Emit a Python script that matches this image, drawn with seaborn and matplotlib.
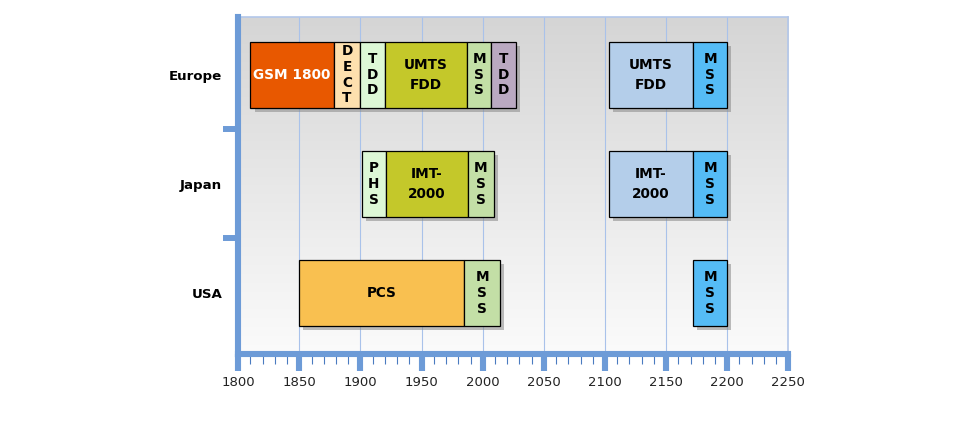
import numpy as np
import pandas as pd
import matplotlib
matplotlib.use("Agg")
import matplotlib.pyplot as plt
import matplotlib.patheffects as pe
from matplotlib.colors import LinearSegmentedColormap
from matplotlib.ticker import MultipleLocator
import seaborn as sns

# ---------------- data ----------------
regions = ["Europe", "Japan", "USA"]

seg_region = ["Europe"] * 8 + ["Japan"] * 5 + ["USA"] * 3
seg_label = ["GSM 1800", "D\nE\nC\nT", "T\nD\nD", "UMTS\nFDD", "M\nS\nS", "T\nD\nD",
             "UMTS\nFDD", "M\nS\nS",
             "P\nH\nS", "IMT-\n2000", "M\nS\nS", "IMT-\n2000", "M\nS\nS",
             "PCS", "M\nS\nS", "M\nS\nS"]
seg_start = [1810, 1878, 1900, 1920, 1987, 2007, 2103, 2172,
             1901, 1921, 1988, 2103, 2172,
             1850, 1985, 2172]
seg_end = [1878, 1900, 1920, 1987, 2007, 2027, 2172, 2200,
           1921, 1988, 2009, 2172, 2200,
           1985, 2014, 2200]
seg_color = ["#E85800", "#FDE0AE", "#DDF8D6", "#C4C82A", "#C3DFA6", "#BAA9C1",
             "#B4CEEA", "#55BCF6",
             "#DDF8D6", "#C4C82A", "#C3DFA6", "#B4CEEA", "#55BCF6",
             "#F9C050", "#C3DFA6", "#55BCF6"]
seg_text_color = ["white"] + ["black"] * 15

x_ticks = list(range(1800, 2251, 50))

df = pd.DataFrame({"region": seg_region, "label": seg_label, "start": seg_start,
                   "end": seg_end, "color": seg_color, "tcolor": seg_text_color})
df["width"] = df["end"] - df["start"]
df["ypos"] = df["region"].map({r: i for i, r in enumerate(regions)})

# ---------------- style ----------------
sns.set_theme(style="white")
plt.rcParams["font.family"] = ["DejaVu Sans"]

W, H = 967, 441
fig = plt.figure(figsize=(W / 100, H / 100), dpi=100)
ax = fig.add_axes([238.2 / W, 1 - 354 / H, 550.2 / W, (354 - 17) / H])

axis_blue = "#6D9BD7"
dark_blue = "#4A7BC0"

# background gradient (grey at top, near white at bottom)
cmap = LinearSegmentedColormap.from_list("bg", ["#D5D5D5", "#FBFBFB"])
grad = np.linspace(0, 1, 256).reshape(-1, 1)
ax.imshow(grad, cmap=cmap, aspect="auto", extent=[0, 1, 0, 1],
          transform=ax.transAxes, zorder=0, vmin=0, vmax=1)

ax.set_xlim(1800, 2250)
ax.set_ylim(2.56, -0.53)

# bars
shadow = [pe.SimplePatchShadow(offset=(3, -3), shadow_rgbFace="#888888", alpha=0.55),
          pe.Normal()]
for i, row in df.iterrows():
    bars = ax.barh(row["ypos"], row["width"], left=row["start"], height=0.6,
                   color=row["color"], edgecolor="black", linewidth=0.9,
                   zorder=3 + i * 0.01)
    for b in bars:
        b.set_path_effects(shadow)
    lines = row["label"].split("\n")
    stacked = len(lines) > 2 or all(len(l) == 1 for l in lines)
    ax.text(row["start"] + row["width"] / 2, row["ypos"], row["label"],
            ha="center", va="center", fontsize=9.8, fontweight="bold",
            color=row["tcolor"], linespacing=1.15 if stacked else 1.5, zorder=4)

# grid
ax.set_xticks(x_ticks)
ax.xaxis.set_minor_locator(MultipleLocator(10))
ax.grid(axis="x", which="major", color="#A9C2EA", linewidth=0.8)
ax.grid(axis="y", visible=False)
ax.set_axisbelow(True)

# y ticks: labels at categories, separator ticks between
ax.set_yticks(range(len(regions)))
ax.set_yticklabels(regions, fontweight="bold", fontsize=9.6, color="black")
ax.set_yticks([0.5, 1.5], minor=True)
ax.tick_params(axis="y", which="major", length=0, pad=11.5)
ax.tick_params(axis="y", which="minor", length=11, width=4.3, color=axis_blue, left=True)

ax.tick_params(axis="x", which="major", length=12, width=4.4, color=axis_blue,
               labelsize=9.5, labelcolor="#222222", pad=4, bottom=True)
ax.tick_params(axis="x", which="minor", length=7.5, width=0.8, color=dark_blue, bottom=True)

for s in ["left", "bottom"]:
    ax.spines[s].set_color(axis_blue)
    ax.spines[s].set_linewidth(4.4)
    ax.spines[s].set_capstyle("projecting")
    ax.spines[s].set_zorder(5)
for s in ["top", "right"]:
    ax.spines[s].set_color("#B3C7EA")
    ax.spines[s].set_linewidth(1.2)

ax.set_xlabel("")
ax.set_ylabel("")

fig.savefig("out.png", dpi=100, facecolor="white")
